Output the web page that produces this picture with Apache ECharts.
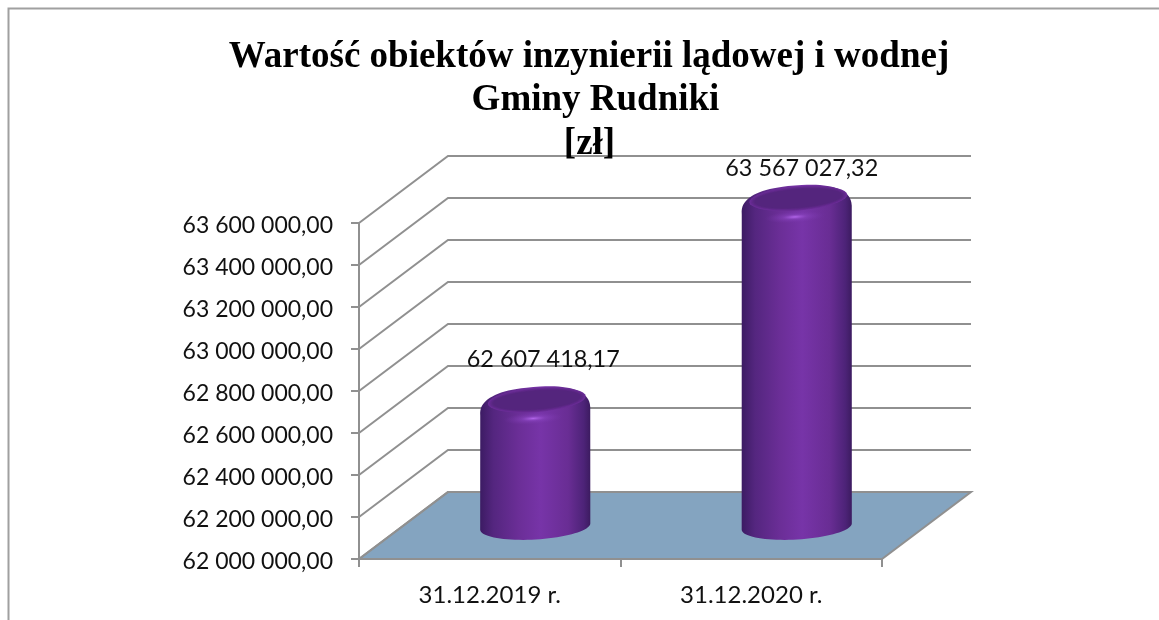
<!DOCTYPE html>
<html>
<head>
<meta charset="utf-8">
<style>
    html, body { margin: 0; padding: 0; background: #fff; }
    #chart { width: 1159px; height: 620px; }
</style>
<script src="https://cdn.jsdelivr.net/npm/echarts@6/dist/echarts.min.js"></script>
</head>
<body>
<div id="chart"></div>
<script>
const categories = ['31.12.2019 r.', '31.12.2020 r.']
const values = [62607418.17, 63567027.32]
const valueLabels = ['62 607 418,17', '63 567 027,32']
const wallTicks = [62000000, 62200000, 62400000, 62600000, 62800000, 63000000, 63200000, 63400000, 63600000]
const titleLines = ['Wartość obiektów inzynierii lądowej i wodnej', 'Gminy Rudniki', '[zł]']

// depth of the fake 3d box
const depthX = 89
const depthY = -67
const lineColor = '#909090'
const floorColor = '#84a4c0'
const titleCenters = [589, 595.5, 589.5]
// soft edge of the cylinder top, outer to inner
const capColors = ['#6a2d96', '#64298f', '#5d2887', '#582681', '#54257d']

function formatTick(v) {
    let s = String(Math.round(v))
    return '{t|' + s.slice(0, 2) + ' ' + s.slice(2, 5) + ' ' + s.slice(5) + ',00}'
}

// points of a tilted (super)ellipse between angles a0 and a1
function arc(cx, cy, a, b, tilt, a0, a1, power) {
    let pts = []
    let n = 40
    for (let i = 0; i <= n; i++) {
        let t = a0 + (a1 - a0) * i / n
        let c = Math.cos(t), s = Math.sin(t)
        let ex = a * Math.sign(c) * Math.pow(Math.abs(c), power)
        let ey = b * Math.sign(s) * Math.pow(Math.abs(s), power)
        pts.push([cx + ex * Math.cos(tilt) - ey * Math.sin(tilt), cy + ex * Math.sin(tilt) + ey * Math.cos(tilt)])
    }
    return pts
}

function renderFloor(params, api) {
    let g = params.coordSys
    let bottom = g.y + g.height
    let right = g.x + g.width
    return {
        type: 'polygon',
        shape: { points: [[g.x, bottom], [g.x + depthX, bottom + depthY], [right + depthX, bottom + depthY], [right, bottom]] },
        style: { fill: floorColor, stroke: lineColor, lineWidth: 2 }
    }
}

function renderWall(params, api) {
    let g = params.coordSys
    let y = api.coord([0, api.value(0)])[1]
    return {
        type: 'polyline',
        shape: { points: [[g.x, y], [g.x + depthX, y + depthY], [g.x + g.width + depthX, y + depthY]] },
        style: { fill: 'none', stroke: lineColor, lineWidth: 2 }
    }
}

function renderCylinder(params, api) {
    let i = params.dataIndex
    let top = api.coord([i, api.value(1)])
    let base = api.coord([i, wallTicks[0]])
    let size = api.size([1, 0])[0]
    let a = size * 0.211
    let cx = top[0] + depthX / 2 + 1
    let tilt = -0.06
    let baseY = base[1] + depthY / 2 + 1
    let capY = top[1] + depthY / 2
    let shoulderY = capY + 13.5

    let outline = arc(cx, shoulderY, a, 24.5, -0.08, Math.PI, Math.PI * 2, 0.82)
        .concat(arc(cx, baseY, a, 13, tilt, 0, Math.PI, 1))

    let bodyFill = new echarts.graphic.LinearGradient(0, 0, 1, 0, [
        { offset: 0, color: '#3c1b63' },
        { offset: 0.12, color: '#54267f' },
        { offset: 0.35, color: '#6b2e97' },
        { offset: 0.55, color: '#7734a8' },
        { offset: 0.8, color: '#692d94' },
        { offset: 0.94, color: '#4d2378' },
        { offset: 1, color: '#3c1b60' }
    ])

    let capLayers = capColors.map((color, k) => ({
        type: 'polygon',
        shape: { points: arc(cx + 1.5, capY + 2, a * (0.89 - k * 0.025), 12 - k * 0.7, -0.08, 0, Math.PI * 2, 1) },
        style: { fill: color }
    }))

    return {
        type: 'group',
        children: [
            { type: 'polygon', shape: { points: outline }, style: { fill: bodyFill } },
            // highlight on the rim
            {
                type: 'circle',
                x: cx - 2,
                y: capY + 20.5,
                scaleX: 5,
                rotation: 0.06,
                shape: { cx: 0, cy: 0, r: 6 },
                style: {
                    fill: new echarts.graphic.RadialGradient(0.5, 0.5, 0.5, [
                        { offset: 0, color: 'rgba(182,104,238,0.95)' },
                        { offset: 0.4, color: 'rgba(140,70,195,0.5)' },
                        { offset: 1, color: 'rgba(120,55,170,0)' }
                    ])
                }
            }
        ].concat(capLayers, [
            {
                type: 'text',
                style: {
                    text: valueLabels[i],
                    x: cx + (i === 0 ? 8 : 5),
                    y: capY - (i === 0 ? 38 : 28),
                    align: 'center',
                    verticalAlign: 'middle',
                    fill: '#111',
                    font: '23.4px Lato'
                }
            }
        ])
    }
}

let chart = echarts.init(document.getElementById('chart'), null, { renderer: 'canvas' })
chart.setOption({
    backgroundColor: '#fff',
    animation: false,
    title: titleLines.map((line, i) => ({
        text: line,
        left: titleCenters[i],
        top: 35.5 + i * 43.5,
        padding: 0,
        textAlign: 'center',
        textStyle: {
            fontFamily: 'Liberation Serif',
            fontWeight: 'bold',
            fontSize: 37,
            lineHeight: 43.5,
            color: '#000'
        }
    })),
    graphic: [{
        type: 'polyline',
        shape: { points: [[8.5, 625], [8.5, 8.5], [1165, 8.5]] },
        style: { fill: 'none', stroke: '#a0a0a0', lineWidth: 2 }
    }],
    grid: { left: 359, right: 277, top: 223, bottom: 61 },
    xAxis: {
        type: 'category',
        data: categories,
        axisLine: { lineStyle: { color: lineColor, width: 2 } },
        axisTick: { show: true, length: 8, lineStyle: { color: lineColor, width: 2 } },
        axisLabel: { color: '#111', fontFamily: 'Lato', fontSize: 24, margin: 24 }
    },
    yAxis: {
        type: 'value',
        min: 62000000,
        max: 63600000,
        interval: 200000,
        splitLine: { show: false },
        axisLine: { show: true, lineStyle: { color: lineColor, width: 2 } },
        axisTick: { show: true, length: 8, lineStyle: { color: lineColor, width: 2 } },
        axisLabel: {
            margin: 26,
            formatter: formatTick,
            rich: { t: { color: '#111', fontFamily: 'Lato', fontSize: 23, lineHeight: 23, padding: [5, 0, 0, 0] } }
        }
    },
    series: [
        { type: 'custom', renderItem: renderFloor, data: [0], silent: true, clip: false, z: 1 },
        { type: 'custom', renderItem: renderWall, encode: { y: 0 }, data: wallTicks.map(v => [v]), silent: true, clip: false, z: 2 },
        { type: 'custom', renderItem: renderCylinder, encode: { x: 0, y: 1 }, data: values.map((v, i) => [i, v]), silent: true, clip: false, z: 3 }
    ]
})
</script>
</body>
</html>
